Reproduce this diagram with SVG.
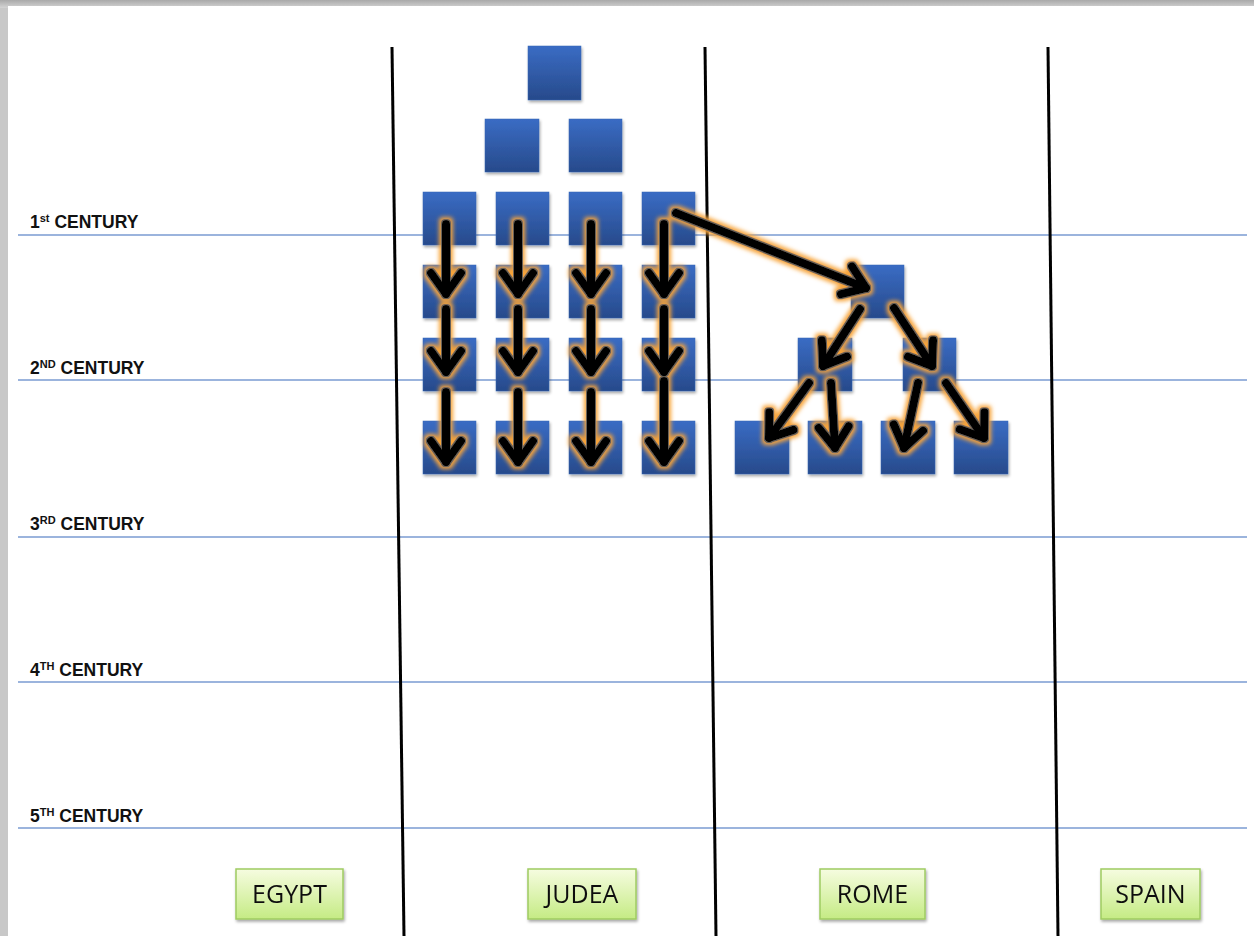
<svg xmlns="http://www.w3.org/2000/svg" width="1254" height="936" viewBox="0 0 1254 936">
<defs>
<linearGradient id="pageTop" x1="0" y1="0" x2="0" y2="1"><stop offset="0" stop-color="#a9a9a9"/><stop offset="1" stop-color="#d4d4d4"/></linearGradient>
<linearGradient id="blue" x1="0" y1="0" x2="0" y2="1"><stop offset="0" stop-color="#3a6cc4"/><stop offset="1" stop-color="#274a8b"/></linearGradient>
<linearGradient id="green" x1="0" y1="0" x2="0" y2="1"><stop offset="0" stop-color="#f6fce0"/><stop offset="1" stop-color="#c5eb84"/></linearGradient>
<filter id="shadow" x="-20%" y="-20%" width="150%" height="150%">
<feGaussianBlur in="SourceAlpha" stdDeviation="1.5"/><feOffset dx="1" dy="2" result="b"/>
<feComponentTransfer in="b" result="s"><feFuncA type="linear" slope="0.35"/></feComponentTransfer>
<feMerge><feMergeNode in="s"/><feMergeNode in="SourceGraphic"/></feMerge>
</filter>
<filter id="glow" x="-20%" y="-20%" width="140%" height="140%">
<feMorphology in="SourceAlpha" operator="dilate" radius="2.5" result="d"/>
<feGaussianBlur in="d" stdDeviation="2" result="db"/>
<feFlood flood-color="#f7a43a" result="f"/>
<feComposite in="f" in2="db" operator="in" result="g"/>
<feMorphology in="SourceAlpha" operator="dilate" radius="1" result="d2"/>
<feFlood flood-color="#6b6258" result="f2"/>
<feComposite in="f2" in2="d2" operator="in" result="g2"/>
<feMerge><feMergeNode in="g"/><feMergeNode in="g2"/><feMergeNode in="SourceGraphic"/></feMerge>
</filter>
<marker id="head" markerUnits="userSpaceOnUse" viewBox="-30 -20 36 40" refX="0" refY="0" markerWidth="36" markerHeight="40" orient="auto" overflow="visible">
<path d="M-21,-15 L0,0 L-21,15" fill="none" stroke="#000" stroke-width="8" stroke-linecap="round" stroke-linejoin="round"/>
</marker>
</defs>
<style>
.hl{stroke:#7a9bd2;stroke-width:1.5}
.vl{stroke:#000;stroke-width:3}
.lab{font-family:"Liberation Sans",Arial,sans-serif;font-weight:bold;font-size:17.5px;fill:#111}
.sup{font-size:11px}
.sq{fill:url(#blue);stroke:#3465b5;stroke-width:0.5}
.gb{fill:url(#green);stroke:#9fcb62;stroke-width:1.5}
.gt{font-family:"Open Sans","Liberation Sans",sans-serif;font-size:25px;fill:#111;text-anchor:middle}
.ar{fill:none;stroke:#000;stroke-width:8;stroke-linecap:round;marker-end:url(#head)}
</style>
<rect x="0" y="0" width="1254" height="936" fill="#c8c8c8"/>
<rect x="0" y="0" width="1254" height="8" fill="url(#pageTop)"/>
<rect x="8" y="6" width="1246" height="930" fill="#fff"/>

<g id="grid">
<line class="hl" x1="18" y1="235" x2="1247" y2="235"/>
<line class="hl" x1="18" y1="380" x2="1247" y2="380"/>
<line class="hl" x1="18" y1="537" x2="1247" y2="537"/>
<line class="hl" x1="18" y1="682" x2="1247" y2="682"/>
<line class="hl" x1="18" y1="828" x2="1247" y2="828"/>
<line class="vl" x1="392" y1="47" x2="404" y2="936"/>
<line class="vl" x1="705" y1="47" x2="716" y2="936"/>
<line class="vl" x1="1048" y1="47" x2="1058" y2="936"/>
</g>

<g id="century-labels">
<text class="lab" x="30" y="228">1<tspan class="sup" dy="-6">st</tspan><tspan dy="6"> CENTURY</tspan></text>
<text class="lab" x="30" y="374">2<tspan class="sup" dy="-6">ND</tspan><tspan dy="6"> CENTURY</tspan></text>
<text class="lab" x="30" y="530">3<tspan class="sup" dy="-6">RD</tspan><tspan dy="6"> CENTURY</tspan></text>
<text class="lab" x="30" y="676">4<tspan class="sup" dy="-6">TH</tspan><tspan dy="6"> CENTURY</tspan></text>
<text class="lab" x="30" y="822">5<tspan class="sup" dy="-6">TH</tspan><tspan dy="6"> CENTURY</tspan></text>
</g>

<g id="judea-nodes" filter="url(#shadow)">
<rect id="j0" class="sq" x="528" y="46" width="53" height="54"/>
<rect id="j1a" class="sq" x="485" y="119" width="54" height="53"/>
<rect id="j1b" class="sq" x="569" y="119" width="53" height="53"/>
<rect id="j2a" class="sq" x="423" y="192" width="53" height="53"/>
<rect id="j2b" class="sq" x="496" y="192" width="53" height="53"/>
<rect id="j2c" class="sq" x="569" y="192" width="53" height="53"/>
<rect id="j2d" class="sq" x="642" y="192" width="53" height="53"/>
<rect id="j3a" class="sq" x="423" y="265" width="53" height="53"/>
<rect id="j3b" class="sq" x="496" y="265" width="53" height="53"/>
<rect id="j3c" class="sq" x="569" y="265" width="53" height="53"/>
<rect id="j3d" class="sq" x="642" y="265" width="53" height="53"/>
<rect id="j4a" class="sq" x="423" y="338" width="53" height="53"/>
<rect id="j4b" class="sq" x="496" y="338" width="53" height="53"/>
<rect id="j4c" class="sq" x="569" y="338" width="53" height="53"/>
<rect id="j4d" class="sq" x="642" y="338" width="53" height="53"/>
<rect id="j5a" class="sq" x="423" y="421" width="53" height="53"/>
<rect id="j5b" class="sq" x="496" y="421" width="53" height="53"/>
<rect id="j5c" class="sq" x="569" y="421" width="53" height="53"/>
<rect id="j5d" class="sq" x="642" y="421" width="53" height="53"/>
</g>

<g id="rome-nodes" filter="url(#shadow)">
<rect id="r0" class="sq" x="851" y="265" width="53" height="53"/>
<rect id="r1a" class="sq" x="798" y="338" width="54" height="53"/>
<rect id="r1b" class="sq" x="903" y="338" width="53" height="53"/>
<rect id="r2a" class="sq" x="735" y="421" width="54" height="53"/>
<rect id="r2b" class="sq" x="808" y="421" width="54" height="53"/>
<rect id="r2c" class="sq" x="881" y="421" width="54" height="53"/>
<rect id="r2d" class="sq" x="954" y="421" width="54" height="53"/>
</g>

<g id="connectors" filter="url(#glow)">
<path class="ar" d="M446,224 L446,294"/>
<path class="ar" d="M446,309 L446,372"/>
<path class="ar" d="M446,392 L446,462"/>
<path class="ar" d="M518,224 L518,294"/>
<path class="ar" d="M518,309 L518,372"/>
<path class="ar" d="M518,392 L518,462"/>
<path class="ar" d="M591,224 L591,294"/>
<path class="ar" d="M591,309 L591,372"/>
<path class="ar" d="M591,392 L591,462"/>
<path class="ar" d="M664,224 L664,294"/>
<path class="ar" d="M664,309 L664,372"/>
<path class="ar" d="M664,381 L664,462"/>
<path class="ar" d="M676,213 L866,288"/>
<path class="ar" d="M860,309 L823,366"/>
<path class="ar" d="M894,308 L932,366"/>
<path class="ar" d="M809,383 L769,438"/>
<path class="ar" d="M831,383 L835,448"/>
<path class="ar" d="M918,383 L904,448"/>
<path class="ar" d="M946,383 L984,438"/>
</g>

<g id="egypt" filter="url(#shadow)"><rect class="gb" x="236" y="869" width="107" height="50"/><text class="gt" x="289.5" y="903">EGYPT</text></g>
<g id="judea" filter="url(#shadow)"><rect class="gb" x="528" y="869" width="108" height="50"/><text class="gt" x="582" y="903">JUDEA</text></g>
<g id="rome" filter="url(#shadow)"><rect class="gb" x="820" y="869" width="105" height="50"/><text class="gt" x="872.5" y="903">ROME</text></g>
<g id="spain" filter="url(#shadow)"><rect class="gb" x="1101" y="869" width="99" height="50"/><text class="gt" x="1150.5" y="903">SPAIN</text></g>
</svg>
